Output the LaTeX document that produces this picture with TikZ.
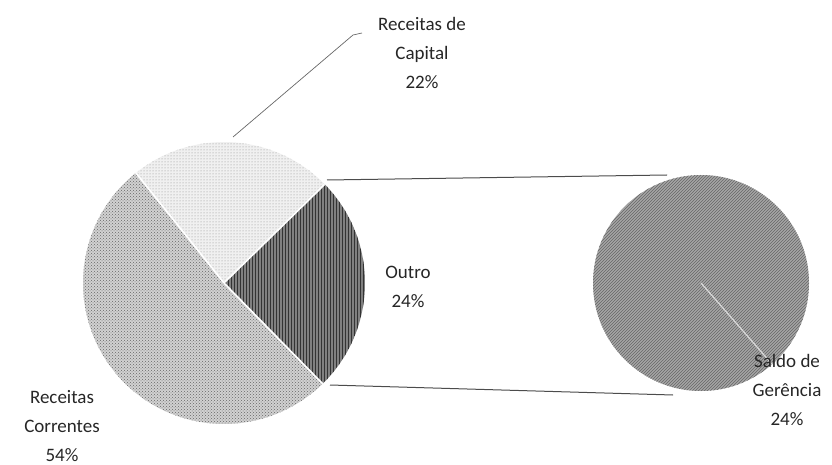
\documentclass[tikz,border=0pt]{standalone}
\usepackage{fontspec}
\setmainfont{Carlito}
\usetikzlibrary{patterns}
\begin{document}
\begin{tikzpicture}[x=1pt,y=-1pt,
  lbl/.style={align=center,text=black!85,font=\fontsize{19}{29}\selectfont,inner sep=0pt},
  conn/.style={draw=black!70,line width=1pt},
  sliceedge/.style={draw=white,line width=1.6pt}]
\useasboundingbox (0,0) rectangle (832,465);
\coordinate (C) at (224,283);
\def\R{141}
% Receitas Correntes
\fill[black!18] (C) -- +(-128.7:\R) arc[start angle=-128.7,end angle=-314.4,radius=\R] -- cycle;
\fill[pattern=crosshatch dots,pattern color=black!60] (C) -- +(-128.7:\R) arc[start angle=-128.7,end angle=-314.4,radius=\R] -- cycle;
% Receitas de Capital
\fill[black!6] (C) -- +(-44.4:\R) arc[start angle=-44.4,end angle=-128.7,radius=\R] -- cycle;
\fill[pattern=dots,pattern color=black!45] (C) -- +(-44.4:\R) arc[start angle=-44.4,end angle=-128.7,radius=\R] -- cycle;
% Outro
\fill[black!50] (C) -- +(45.6:\R) arc[start angle=45.6,end angle=-44.4,radius=\R] -- cycle;
\fill[pattern=vertical lines,pattern color=black!80] (C) -- +(45.6:\R) arc[start angle=45.6,end angle=-44.4,radius=\R] -- cycle;
% slice edges
\draw[sliceedge] (C) -- +(-128.7:\R);
\draw[sliceedge] (C) -- +(-44.4:\R);
\draw[sliceedge] (C) -- +(45.6:\R);
% second pie
\coordinate (D) at (701,283);
\fill[black!35] (D) circle[radius=108];
\fill[pattern=north east lines,pattern color=black!60] (D) circle[radius=108];
\draw[white!85!black,line width=1.2pt] (D) -- +(48.8:108);
% connectors
\coordinate (o1) at (327,180);
\coordinate (s1) at (667,175);
\coordinate (o2) at (330,385);
\coordinate (s2) at (673,395);
\draw[conn] (o1) -- (s1);
\draw[conn] (o2) -- (s2);
% labels
\node[lbl] (cap) at (422,53) {Receitas de\\Capital\\22\%};
\node[lbl] (out) at (408,287) {Outro\\24\%};
\node[lbl] (cor) at (62,426) {Receitas\\Correntes\\54\%};
\node[lbl] (sal) at (787,390) {Saldo de\\Gerência\\24\%};
\coordinate (capleg) at (233,137);
\coordinate (capbend) at (353,35);
\draw[black!60,line width=0.7pt] (capleg) -- (capbend) -- (362,33);
\end{tikzpicture}
\end{document}
